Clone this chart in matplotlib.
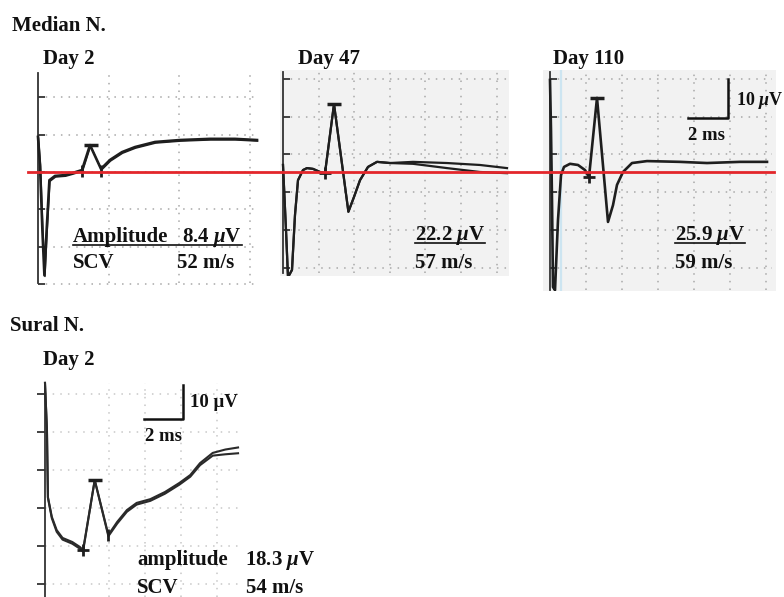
import numpy as np
import matplotlib
matplotlib.use("Agg")
import matplotlib.pyplot as plt
from matplotlib.lines import Line2D
from matplotlib.transforms import blended_transform_factory

plt.rcParams['font.family'] = ['Liberation Serif', 'DejaVu Serif']
plt.rcParams['font.weight'] = 'bold'
plt.rcParams['mathtext.fontset'] = 'custom'
plt.rcParams['mathtext.rm'] = 'Liberation Serif:bold'
plt.rcParams['mathtext.it'] = 'Liberation Serif:italic:bold'
plt.rcParams['mathtext.bf'] = 'Liberation Serif:bold'

# Traces: time in ms after stimulus, amplitude in uV

# Median N., Day 2
med_d2_t = [0.0, 0.1, 0.22, 0.32, 0.42, 0.57, 0.85, 1.35, 1.7, 2.2, 2.6, 3.15,
            3.6, 4.2, 4.85, 5.85, 7.1, 8.6, 9.85, 10.95]
med_d2_v = [9.0, 1.8, -15.0, -26.5, -16.0, -2.1, -1.0, -0.8, -0.3, 0.5, 6.9, 0.8,
            3.1, 5.1, 6.4, 7.7, 8.2, 8.5, 8.5, 8.2]

# Median N., Day 47 (two superimposed sweeps)
med_d47_t = [0.0, 0.15, 0.25, 0.45, 0.6, 0.75, 1.0, 1.2, 1.5, 1.85, 2.1, 2.55,
             3.27, 3.55, 3.85, 4.25, 4.7, 5.35]
med_d47_v = [1.8, -14.9, -27.0, -25.1, -11.0, -2.1, 0.5, 1.0, 0.8, 0.0, -0.3, 17.4,
             -10.2, -6.4, -2.1, 1.3, 2.6, 2.3]
med_d47_tail_t = [6.5, 8.2, 9.85, 11.2]
med_d47_tail_a = [2.6, 2.3, 1.8, 1.0]
med_d47_tail_b = [2.1, 1.0, 0.0, -0.3]

# Median N., Day 110
med_d110_t = [0.0, 0.05, 0.1, 0.15, 0.25, 0.4, 0.55, 0.7, 1.0, 1.4, 1.75, 1.95,
              2.35, 2.9, 3.15, 3.35, 3.65, 4.1, 4.85, 6.5, 7.85, 9.5, 10.85]
med_d110_v = [23.6, 10.8, -7.2, -29.5, -30.3, -12.3, -0.8, 1.3, 2.1, 1.8, 0.5, -1.3,
              19.0, -12.8, -8.5, -3.3, 0.0, 2.3, 2.8, 2.6, 2.3, 2.6, 2.6]

# Sural N., Day 2 (two superimposed sweeps)
sur_d2_t = [0.0, 0.1, 0.15, 0.35, 0.6, 0.9, 1.4, 1.8, 1.95, 2.55, 3.25, 3.7, 4.2,
            4.7, 5.4, 6.15, 6.9, 7.45, 7.95, 8.6, 9.25, 9.9]
sur_d2_a = [36.8, 22.9, 3.2, -2.6, -6.5, -8.8, -10.0, -11.5, -12.4, 8.2, -7.9, -4.1,
            -0.6, 1.5, 2.6, 4.7, 7.4, 9.7, 13.2, 16.2, 17.2, 17.8]
sur_d2_b = [36.8, 22.9, 3.0, -3.0, -7.0, -9.3, -10.5, -12.0, -12.8, 8.2, -8.3, -4.6,
            -1.1, 1.0, 2.1, 4.2, 6.9, 9.2, 12.6, 15.4, 15.8, 16.1]

# cursor marks (onset, peak, trough)
med_d2_marks = {'onset': (2.2, 0.3), 'peak': (2.65, 6.9), 'trough': (3.15, 0.3)}
med_d47_marks = {'onset': (2.1, -0.3), 'peak': (2.55, 17.4)}
med_d110_marks = {'onset': (1.95, -1.3), 'peak': (2.35, 19.0)}
sur_d2_marks = {'onset': (1.95, -12.4), 'peak': (2.55, 8.2), 'trough': (3.25, -7.9)}

W, H = 784, 597
fig = plt.figure(figsize=(W / 100, H / 100), dpi=100)

TRACE = '#1e1e1e'
GRID = '#a8a8a8'


def panel(box, x0, y0, sx, sy, face='none'):
    # box in pixels (left, top, right, bottom); origin (x0, y0) = 0 ms / 0 uV
    l, t, r, b = box
    ax = fig.add_axes([l / W, 1 - b / H, (r - l) / W, (b - t) / H])
    ax.set_xlim((l - x0) / sx, (r - x0) / sx)
    ax.set_ylim((y0 - b) / sy, (y0 - t) / sy)
    ax.set_facecolor(face)
    for s in ['top', 'right', 'bottom']:
        ax.spines[s].set_visible(False)
    ax.spines['left'].set_position(('data', 0))
    ax.spines['left'].set_color('#333333')
    ax.spines['left'].set_linewidth(1.3)
    ax.set_xticks([])
    return ax


def grid(ax, hv, vt, x_end, y_lo, y_hi, color=GRID):
    for v in hv:
        ax.plot([0, x_end], [v, v], ls=(0, (1, 4)), color=color, lw=1.1, zorder=1)
    for t in vt:
        ax.plot([t, t], [y_lo, y_hi], ls=(0, (1, 4)), color=color, lw=1.1, zorder=1)


def marks(ax, m, cross=True):
    x, y = m['onset']
    ax.plot([x], [y], marker='|', ms=9, mew=2, color=TRACE, zorder=4)
    if cross:
        ax.plot([x], [y], marker='_', ms=8, mew=2, color=TRACE, zorder=4)
    x, y = m['peak']
    ax.plot([x], [y], marker='_', ms=10, mew=2.5, color=TRACE, zorder=4)
    if 'trough' in m:
        x, y = m['trough']
        ax.plot([x], [y], marker='|', ms=9, mew=2, color=TRACE, zorder=4)


# --- Median N. panels ---
sx, sy = 20.0, 3.9

ax1 = panel((30, 70, 262, 285), 38, 172, sx, sy)
ax1.spines['left'].set_bounds(-28.5, 25.4)
ax1.set_yticks(9.6 * np.arange(-3, 3))
ax1.tick_params(axis='y', direction='in', length=5, width=1.3, colors='#333333',
                labelleft=False)
grid(ax1, 9.6 * np.arange(-3, 3), 3.53 * np.arange(1, 4), 11.0, -28.5, 25.4)
ax1.plot(med_d2_t, med_d2_v, color=TRACE, lw=1.9, zorder=3, solid_joinstyle='round')
ax1.plot(np.array(med_d2_t) + 0.03, np.array(med_d2_v) - 0.3, color=TRACE, lw=1.0,
         zorder=3)
marks(ax1, med_d2_marks, cross=False)

ax2 = panel((280, 70, 509, 276), 283, 172, sx, sy, face='#f2f2f2')
ax2.spines['left'].set_bounds(-25.9, 25.6)
ax2.set_yticks(4.5 + 9.7 * np.arange(-3, 3))
ax2.tick_params(axis='y', direction='in', length=5, width=1.3, colors='#333333',
                labelleft=False)
grid(ax2, 4.5 + 9.7 * np.arange(-3, 3), 1.78 * np.arange(1, 7), 11.2, -25.9, 25.6)
ax2.plot(med_d47_t + med_d47_tail_t, med_d47_v + med_d47_tail_a, color=TRACE,
         lw=1.6, zorder=3)
ax2.plot(med_d47_t + med_d47_tail_t, med_d47_v + med_d47_tail_b, color=TRACE,
         lw=1.6, zorder=3)
marks(ax2, med_d47_marks)

ax3 = panel((543, 70, 776, 291), 550, 172, sx, sy, face='#f2f2f2')
ax3.spines['left'].set_bounds(-30.3, 25.6)
ax3.set_yticks(4.5 + 9.7 * np.arange(-3, 3))
ax3.tick_params(axis='y', direction='in', length=5, width=1.3, colors='#333333',
                labelleft=False)
grid(ax3, 4.5 + 9.7 * np.arange(-3, 3), 1.8 * np.arange(1, 7), 11.1, -30.3, 25.6)
ax3.axvline(0.55, color='#cde5f1', lw=1.6, zorder=2)
ax3.plot(med_d110_t, med_d110_v, color=TRACE, lw=1.9, zorder=3)
marks(ax3, med_d110_marks)

# scale bar 2 ms / 10 uV
ax3.plot([6.9, 8.9, 8.9], [13.8, 13.8, 23.8], color='#111111', lw=1.8, zorder=4)

# baseline reference (0 uV) across the Median N. row
base = blended_transform_factory(fig.transFigure, ax1.transData)
fig.add_artist(Line2D([28 / W, 774 / W], [0, 0], transform=base, color='#e3262b',
                      lw=2.0, zorder=10))

# --- Sural N. panel ---
ax4 = panel((30, 378, 248, 597), 45, 508, 19.5, 3.4)
ax4.spines['left'].set_bounds(-26.2, 36.8)
ax4.set_yticks(11.2 * np.arange(-2, 4))
ax4.tick_params(axis='y', direction='out', length=6, width=1.3, colors='#333333',
                labelleft=False)
grid(ax4, 11.2 * np.arange(-2, 4), 3.28 + 1.85 * np.arange(0, 4), 10.0, -26.2, 36.8,
     color='#c8c8c8')
ax4.plot(sur_d2_t, sur_d2_a, color='#2a2a2a', lw=1.5, zorder=3)
ax4.plot(sur_d2_t, sur_d2_b, color='#2a2a2a', lw=1.5, zorder=3)
marks(ax4, sur_d2_marks)
ax4.plot([5.08, 7.08, 7.08], [26.2, 26.2, 36.2], color='#111111', lw=1.8, zorder=4)


# --- text ---
def put(x, y, s, size=15):
    return fig.text(x / W, 1 - y / H, s, fontsize=size, fontweight='bold',
                    ha='left', va='baseline', color='#111111')


put(12, 31, 'Median N.')
put(43, 64, 'Day 2')
put(298, 64, 'Day 47')
put(553, 64, 'Day 110')
put(10, 331, 'Sural N.')
put(43, 365, 'Day 2')

amp1 = put(73, 242, 'Amplitude')
val1 = put(182, 242, r'8.4 $\mu$V')
put(73, 268, 'SCV')
put(177, 268, '52 m/s')
val2 = put(415, 240, r'22.2 $\mu$V')
put(415, 268, '57 m/s')
val3 = put(675, 240, r'25.9 $\mu$V')
put(675, 268, '59 m/s')

put(736, 105, r'10 $\mu$V', size=13)
put(688, 140, '2 ms', size=13.5)
put(190, 407, '10 \u03bcV', size=13.5)
put(145, 441, '2 ms', size=13.5)

put(137, 565, 'amplitude')
put(245, 565, r'18.3 $\mu$V')
put(137, 593, 'SCV')
put(246, 593, '54 m/s')

# underlines
fig.canvas.draw()
rend = fig.canvas.get_renderer()
for first, last, y in [(amp1, val1, 245), (val2, val2, 243), (val3, val3, 243)]:
    x_a = first.get_window_extent(rend).x0
    x_b = last.get_window_extent(rend).x1
    fig.add_artist(Line2D([x_a / W, x_b / W], [1 - y / H, 1 - y / H],
                          transform=fig.transFigure, color='#111111', lw=1.2))

fig.savefig('out.png', dpi=100)
